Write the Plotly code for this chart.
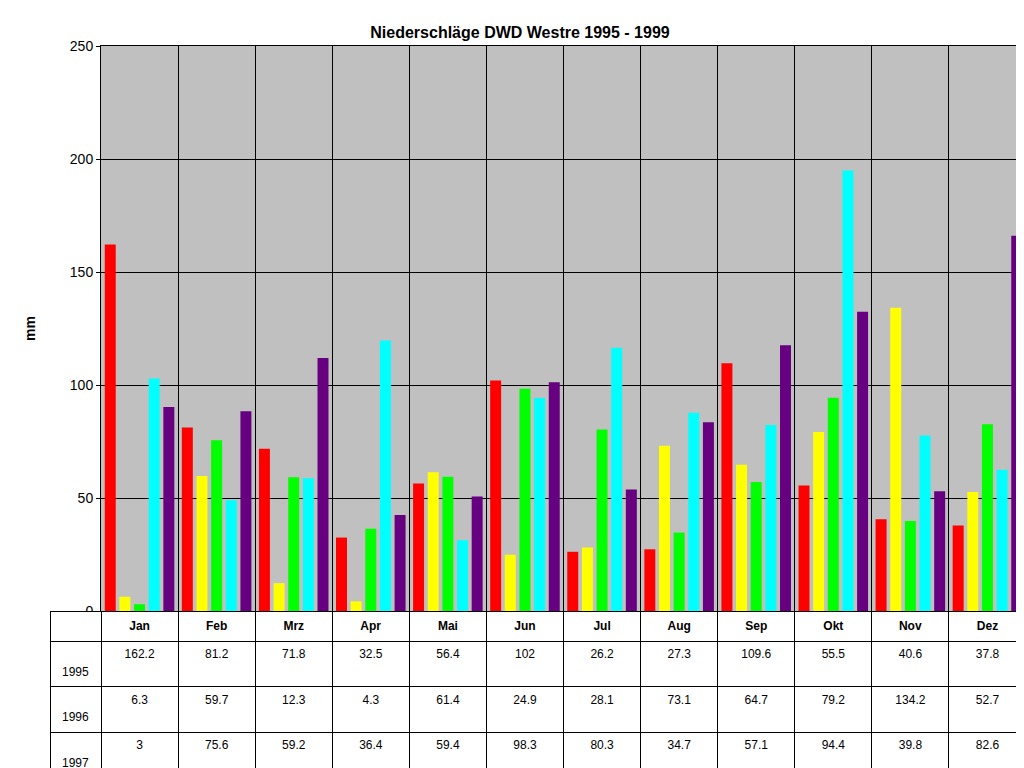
import plotly.graph_objects as go

months = ["Jan","Feb","Mrz","Apr","Mai","Jun","Jul","Aug","Sep","Okt","Nov","Dez"]
years = ["1995","1996","1997","1998","1999"]
v1995 = [162.2,81.2,71.8,32.5,56.4,102,26.2,27.3,109.6,55.5,40.6,37.8]
v1996 = [6.3,59.7,12.3,4.3,61.4,24.9,28.1,73.1,64.7,79.2,134.2,52.7]
v1997 = [3,75.6,59.2,36.4,59.4,98.3,80.3,34.7,57.1,94.4,39.8,82.6]
v1998 = [102.9,49,58.7,119.7,31.3,94.2,116.5,87.7,82.3,194.9,77.6,62.5]
v1999 = [90.3,88.4,111.9,42.5,50.7,101.2,53.8,83.5,117.6,132.4,53,166]
colors = ["#ff0000","#ffff00","#00ff00","#00ffff","#660080"]
series = [v1995,v1996,v1997,v1998,v1999]

W, H = 1024, 768
fig = go.Figure()
for y, vals, c in zip(years, series, colors):
    fig.add_trace(go.Bar(x=months, y=vals, name=y, marker=dict(color=c, line=dict(width=0))))

cols = [["   " + y for y in years]] + [[str(s[i]) for s in series] for i in range(12)]
fig.add_trace(go.Table(
    domain=dict(x=[42/W, 1018/W], y=[5/H, 165/H]),
    columnwidth=[51] + [77]*12,
    header=dict(values=[""] + ["<b>%s</b>" % m for m in months], height=29,
                fill_color="white", line_color="black",
                font=dict(family="Arial", size=12, color="black"), align="center"),
    cells=dict(values=cols, height=26, fill_color="white", line_color="black",
               font=dict(family="Arial", size=12, color="black"), align="center")))

# legend keys in the table's first column
fig.add_trace(go.Scatter(x=[0]*5, y=years, mode="markers", xaxis="x2", yaxis="y2",
                         marker=dict(symbol="square", size=9, color=colors,
                                     line=dict(color="black", width=1)),
                         hoverinfo="skip"))

fig.update_layout(
    width=W, height=H, margin=dict(l=0, r=0, t=0, b=0),
    paper_bgcolor="white", plot_bgcolor="#c0c0c0", showlegend=False,
    barmode="group", bargap=0.05, bargroupgap=0.25,
    title=dict(text="<b>Niederschläge DWD Westre 1995 - 1999</b>", x=0.5, y=0.975,
               xanchor="center", font=dict(family="Arial", size=16, color="black")),
    font=dict(family="Arial", color="black"),
    xaxis=dict(domain=[93/W, 1018/W], tickson="boundaries", showgrid=True,
               gridcolor="black", gridwidth=1, showticklabels=False, ticks="",
               showline=True, linecolor="black", mirror=True, automargin=False),
    yaxis=dict(domain=[(H-603)/H, (H-38)/H], range=[0, 250], dtick=50,
               showgrid=True, gridcolor="black", gridwidth=1, zeroline=False,
               showline=True, linecolor="black", mirror=True, ticks="outside",
               ticklen=4, tickcolor="black", automargin=False,
               tickfont=dict(family="Arial", size=14, color="black"),
               title=dict(text="<b>mm</b>", font=dict(family="Arial", size=14), standoff=30)),
    xaxis2=dict(domain=[44/W, 56/W], range=[-1, 1], visible=False, fixedrange=True),
    yaxis2=dict(domain=[5/H, 136/H], type="category", categoryorder="array",
                categoryarray=years[::-1], range=[-0.5, 4.5], visible=False, fixedrange=True),
)
fig.write_html("out.html")
